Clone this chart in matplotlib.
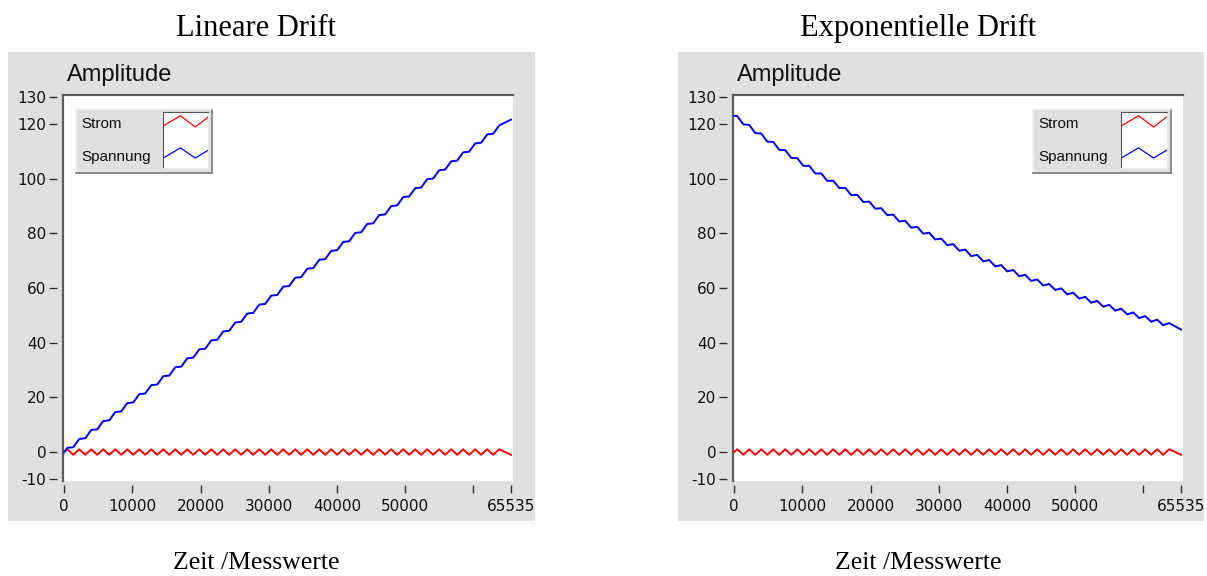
import numpy as np
import matplotlib.pyplot as plt

plt.rcParams['axes.unicode_minus'] = False

# ---- data ----------------------------------------------------------------
n_last = 65535          # last sample index
ripple_first = 440      # sample of the first ripple peak
ripple_step = 880       # samples between ripple peak and trough

# vertices of the curves: x=0, 73 ripple extremes, x=65535
strom = [0.0] + [1.0, -1.0] * 36 + [1.0] + [-1.0]

spannung_lin = [0.0,
    1.52, 1.76, 4.80, 5.03, 8.07, 8.31, 11.35, 11.59, 14.62, 14.86,
    17.90, 18.14, 21.18, 21.41, 24.45, 24.69, 27.73, 27.97, 31.00, 31.24,
    34.28, 34.52, 37.56, 37.79, 40.83, 41.07, 44.11, 44.35, 47.38, 47.62,
    50.66, 50.90, 53.94, 54.17, 57.21, 57.45, 60.49, 60.73, 63.76, 64.00,
    67.04, 67.28, 70.32, 70.55, 73.59, 73.83, 76.87, 77.11, 80.14, 80.38,
    83.42, 83.66, 86.70, 86.93, 89.97, 90.21, 93.25, 93.49, 96.52, 96.76,
    99.80, 100.04, 103.08, 103.31, 106.35, 106.59, 109.63, 109.87, 112.90, 113.14,
    116.18, 116.42, 119.46,
    121.6]

spannung_exp = [123.0,
    122.88, 119.85, 119.64, 116.65, 116.49, 113.54, 113.42, 110.52, 110.43, 107.57,
    107.52, 104.70, 104.69, 101.90, 101.93, 99.18, 99.25, 96.54, 96.64, 93.96,
    94.10, 91.45, 91.62, 89.01, 89.21, 86.63, 86.87, 84.32, 84.59, 82.07,
    82.37, 79.88, 80.21, 77.75, 78.10, 75.67, 76.05, 73.64, 74.05, 71.67,
    72.11, 69.76, 70.22, 67.89, 68.38, 66.07, 66.58, 64.30, 64.83, 62.58,
    63.13, 60.90, 61.48, 59.27, 59.87, 57.68, 58.30, 56.13, 56.77, 54.62,
    55.29, 53.16, 53.84, 51.73, 52.43, 50.34, 51.06, 48.99, 49.73, 47.67,
    48.43, 46.39, 47.16,
    44.8]

x_ticks = [0, 10000, 20000, 30000, 40000, 50000, 60000, 65535]
x_labels = ['0', '10000', '20000', '30000', '40000', '50000', '', '65535']
x_grid = [10000, 20000, 30000, 40000, 50000, 60000]
y_ticks = [-10, 0, 20, 40, 60, 80, 100, 120, 130]
y_labels = ['-10', '0', '20', '40', '60', '80', '100', '120', '130']
y_grid = [0, 20, 40, 60, 80, 100, 120]

titles = ['Lineare Drift', 'Exponentielle Drift']
xlabel = 'Zeit /Messwerte'
ylabel = 'Amplitude'
names = ['Strom', 'Spannung']

# legend sample glyph (fractions of the little white box)
glyph_x = [0.0, 0.38, 0.71, 1.0]
glyph_red = [0.75, 0.93, 0.73, 0.91]
glyph_blue = [0.18, 0.36, 0.18, 0.32]

xs = np.concatenate([[0], ripple_first + ripple_step * np.arange(73), [n_last]])

# ---- style ----------------------------------------------------------------
W, H = 1207, 576
panel_gray = '#dfe0df'
grid_col = '#cec8ce'
edge_dark = '#5c5c5c'
tick_col = '#303030'
red = '#ff0000'
blue = '#0000ff'
sans = 'Liberation Sans'
serif = 'Liberation Serif'

fig = plt.figure(figsize=(W / 100, H / 100), dpi=100)
fig.patch.set_facecolor('white')


def px(x):
    return x / W


def py(y):
    return 1 - y / H


def legend(ax, bounds):
    lg = ax.inset_axes(bounds)
    lg.set_facecolor(panel_gray)
    lg.set_xticks([])
    lg.set_yticks([])
    lg.set_xlim(0, 1)
    lg.set_ylim(0, 1)
    for s in ['left', 'top']:
        lg.spines[s].set_color('#f4f4f4')
    for s in ['right', 'bottom']:
        lg.spines[s].set_color('#7a7a7a')
    for s in lg.spines.values():
        s.set_linewidth(1.2)
    lg.text(0.04, 0.765, names[0], family=sans, fontsize=11, va='center', color='#111111')
    lg.text(0.04, 0.25, names[1], family=sans, fontsize=11, va='center', color='#111111')
    sw = lg.inset_axes([0.64, 0.08, 0.33, 0.875])
    sw.set_facecolor('white')
    sw.set_xticks([])
    sw.set_yticks([])
    sw.set_xlim(0, 1)
    sw.set_ylim(0, 1)
    for s in ['left', 'top']:
        sw.spines[s].set_color('#555555')
    for s in ['right', 'bottom']:
        sw.spines[s].set_color('#e8e8e8')
    sw.plot(glyph_x, glyph_red, color=red, lw=0.9)
    sw.plot(glyph_x, glyph_blue, color=blue, lw=0.9)


panels = [(8, 535), (678, 1204)]
plots = [(63, 513), (733, 1183)]
legends = [[0.029, 0.797, 0.303, 0.167], [0.667, 0.797, 0.306, 0.167]]
series = [spannung_lin, spannung_exp]
centers = [256, 918]

for i in range(2):
    p0, p1 = panels[i]
    fig.patches.append(plt.Rectangle((px(p0), py(521)), px(p1 - p0), (521 - 52) / H,
                                     transform=fig.transFigure, facecolor=panel_gray,
                                     edgecolor='none', zorder=-10))
    a0, a1 = plots[i]
    ax = fig.add_axes([px(a0), py(481), px(a1 - a0), (481 - 95) / H])
    ax.set_facecolor('white')
    ax.set_xlim(-190, 65830)
    ax.set_ylim(-10.6, 130.6)

    ax.set_xticks(x_ticks)
    ax.set_xticklabels(x_labels)
    ax.set_yticks(y_ticks)
    ax.set_yticklabels(y_labels)
    ax.set_xticks(x_grid, minor=True)
    ax.set_yticks(y_grid, minor=True)
    ax.grid(which='minor', color=grid_col, lw=1.5)
    ax.grid(which='major', visible=False)
    ax.set_axisbelow(True)
    ax.tick_params(which='minor', length=0)
    ax.tick_params(which='major', direction='out', length=6, width=1, color=tick_col,
                   labelsize=11, labelcolor='#111111', pad=2)
    ax.tick_params(axis='x', pad=4)
    for lab in ax.get_xticklabels() + ax.get_yticklabels():
        lab.set_family(sans)

    ax.spines['left'].set_position(('outward', 4))
    ax.spines['bottom'].set_position(('outward', 3))
    ax.spines['left'].set_visible(False)
    ax.spines['bottom'].set_visible(False)
    ax.spines['right'].set_visible(False)
    ax.spines['top'].set_color(edge_dark)
    ax.spines['top'].set_linewidth(1.6)
    ax.plot([0, 0], [0, 1], transform=ax.transAxes, color=edge_dark, lw=1.6, clip_on=False)

    ax.plot(xs, strom, color=red, lw=1.4)
    ax.plot(xs, series[i], color=blue, lw=1.4)

    legend(ax, legends[i])

    fig.text(px(a0 + 4), py(75), ylabel, family=sans, fontsize=17, va='center', color='#111111')
    fig.text(px(centers[i]), py(28), titles[i], family=serif, fontsize=22, ha='center', va='center')
    fig.text(px(centers[i]), py(563), xlabel, family=serif, fontsize=18.5, ha='center', va='center')

fig.savefig('out.png', dpi=100)
